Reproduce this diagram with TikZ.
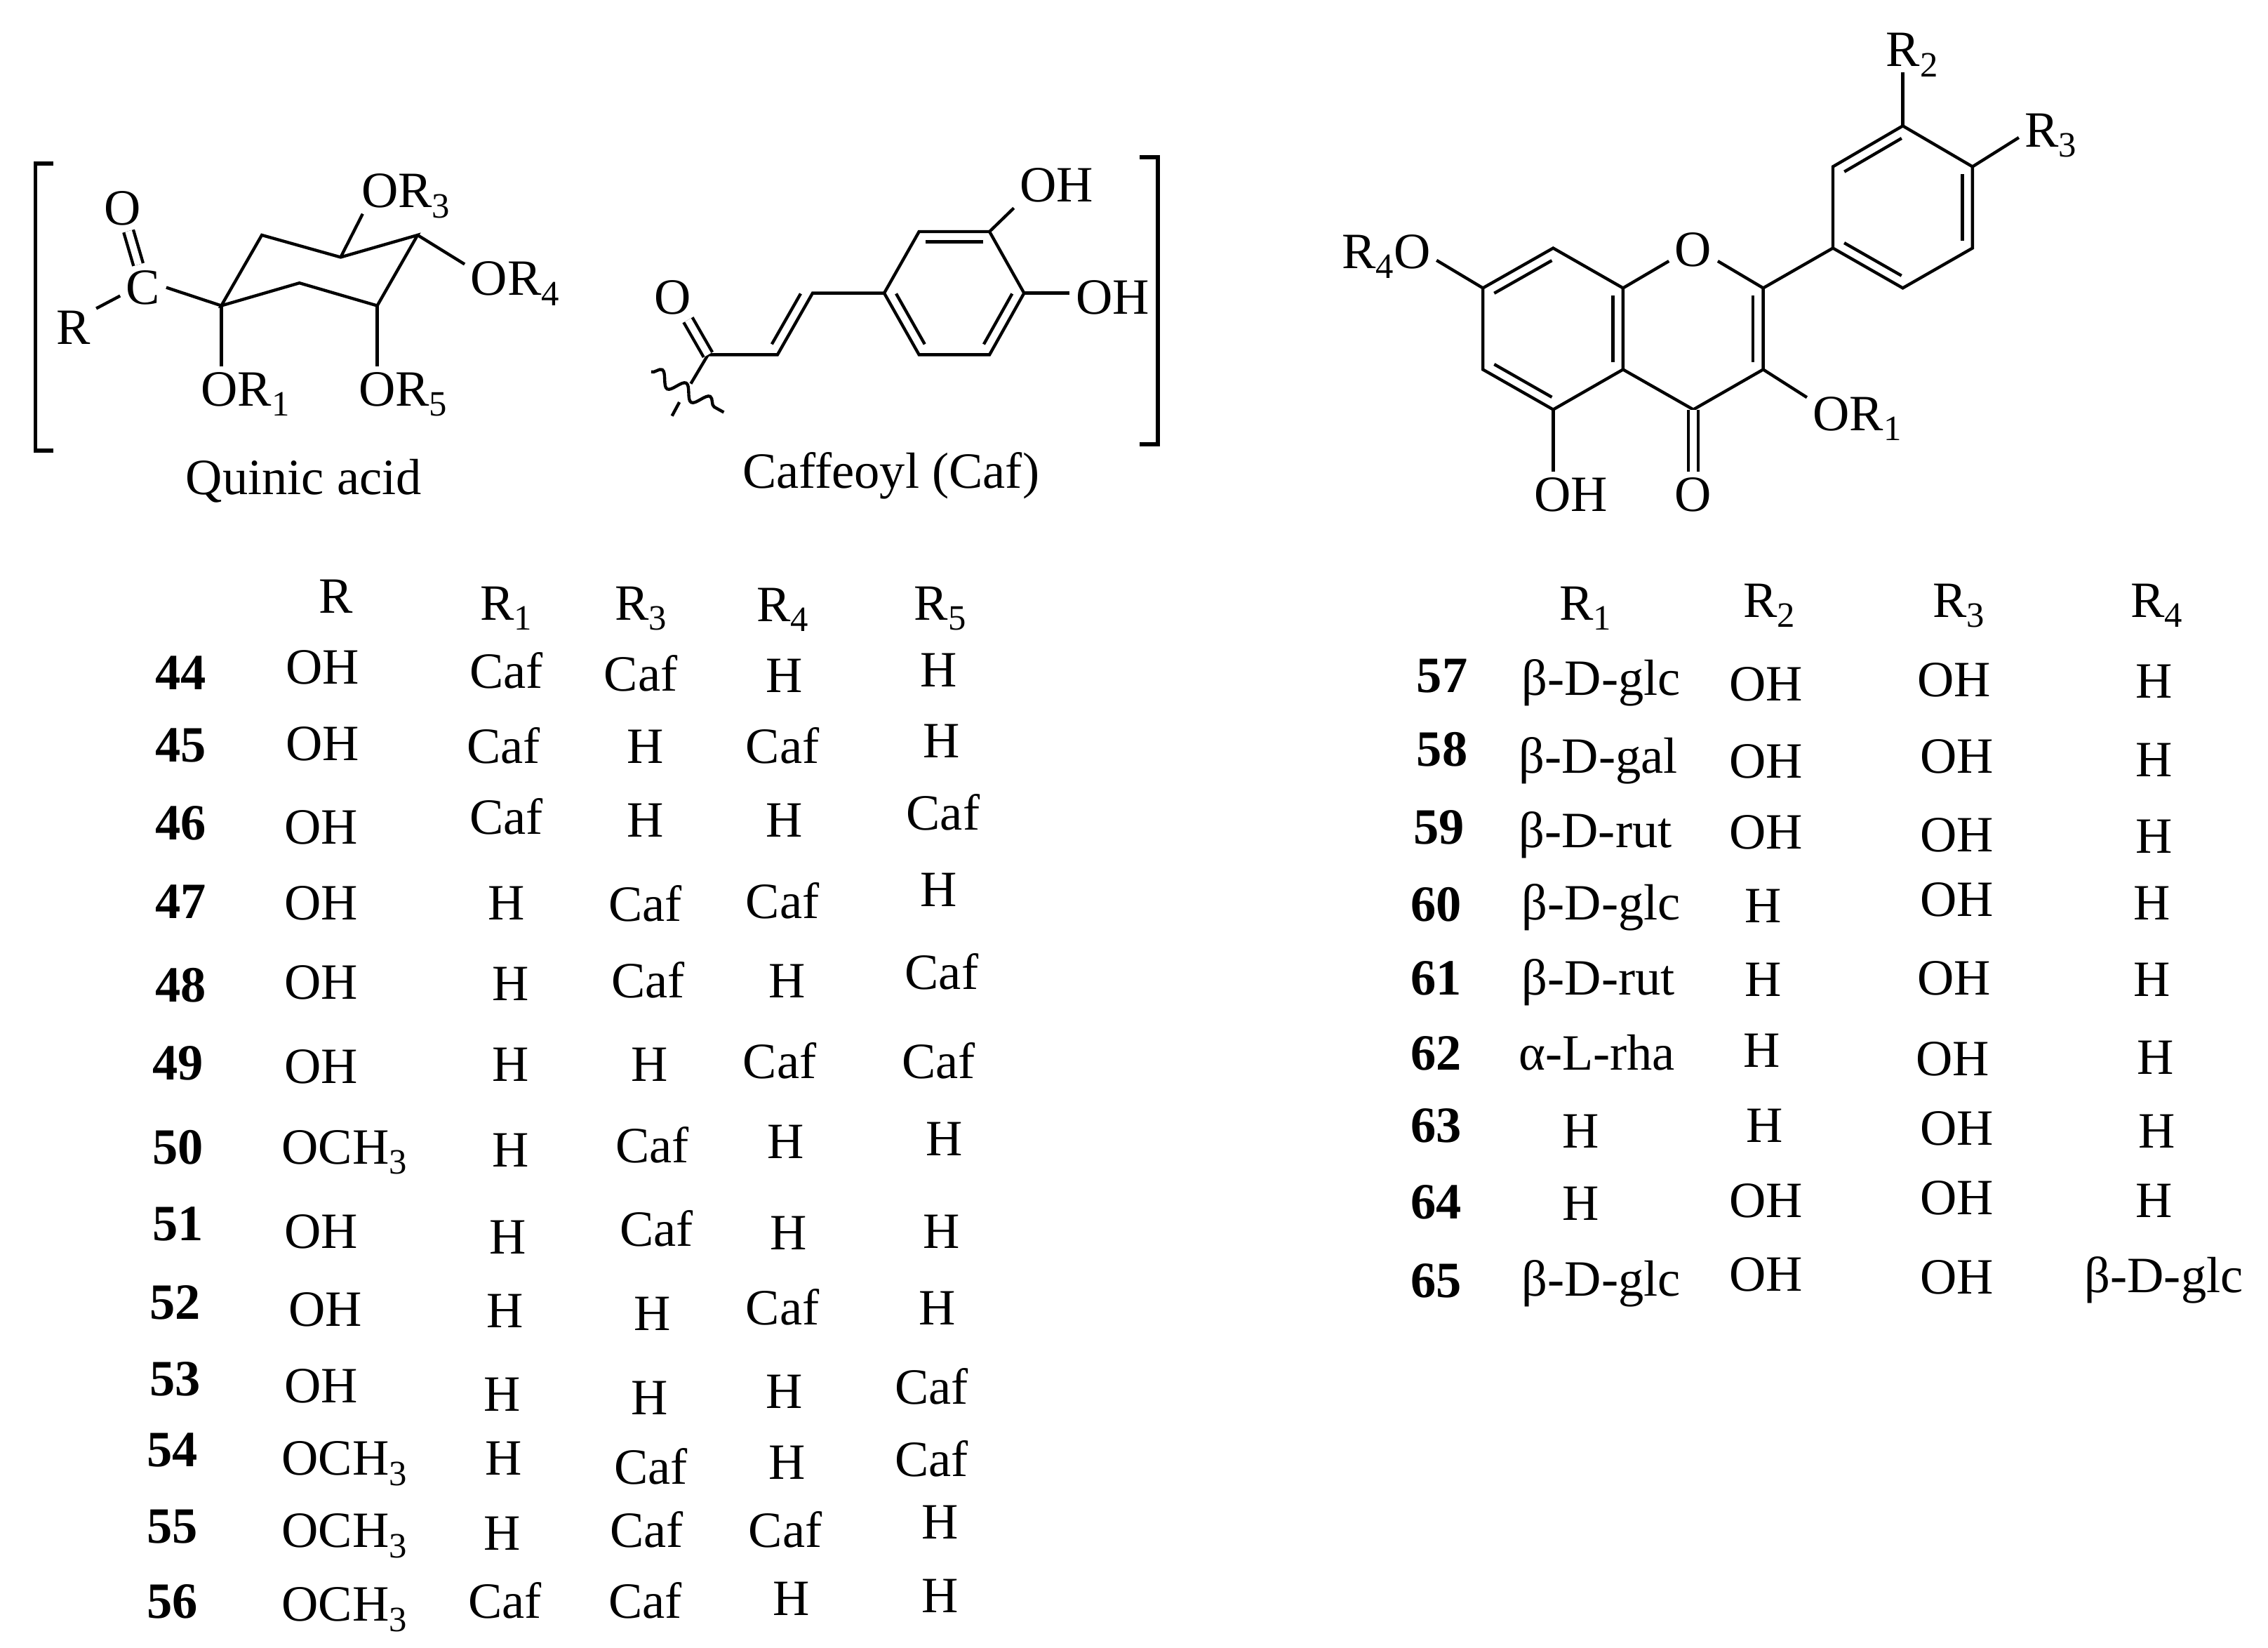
\documentclass[tikz,border=0pt]{standalone}
\usepackage{fontspec}
\setmainfont{Liberation Serif}
\usepackage{xcolor}
\usepackage{tikz}
\usetikzlibrary{calc, decorations.pathmorphing}
\newcommand{\lowsub}[1]{\raisebox{-2pt}{\scriptsize #1}}
\newcommand{\innerbond}[2]{\draw[bond] ($(#1)!0.09!(#2)!0.7mm!90:(#2)$) -- ($(#2)!0.09!(#1)!0.7mm!-90:(#1)$);}

\begin{document}
\begin{tikzpicture}[x=0.1mm, y=-0.1mm,
            bond/.style={draw, line width=0.6pt, line join=miter},
            dbond/.style={draw, line width=0.6pt, double, double distance=1.35pt},
            bracket/.style={draw, line width=0.8pt},
            atom/.style={inner sep=1pt, text height=6.6pt, text depth=0pt},
            cell/.style={inner sep=0pt, text height=6.6pt, text depth=0pt},
            num/.style={cell, font=\bfseries}]
            \useasboundingbox (0,0) rectangle (1568,1139);

            \draw[bracket] (36.7,113) -| (24.5,311.5) -- (36.7,311.5);
            \draw[bracket] (788,108.5) -| (800.3,307) -- (788,307);

            \coordinate (q1) at (153,211.3);
            \coordinate (q2) at (181,162.5);
            \coordinate (q3) at (235.5,177.8);
            \coordinate (q4) at (288.7,162.5);
            \coordinate (q5) at (260.8,211.3);
            \coordinate (q6) at (207,195.6);
            \node[atom] (qc) at (99,198.7) {C};
            \node[atom] (qo) at (84.6,143.9) {O};
            \node[atom] (qr) at (50.6,226.6) {R};
            \node[atom] (qor3) at (280.5,132) {OR\lowsub{3}};
            \node[atom] (qor4) at (356,192.6) {OR\lowsub{4}};
            \node[atom] (qor1) at (169.5,269) {OR\lowsub{1}};
            \node[atom] (qor5) at (278.5,269) {OR\lowsub{5}};
            \node[cell] (quinic) at (210,330) {Quinic acid};

            \draw[bond] (q1) -- (q2) -- (q3) -- (q4) -- (q5) -- (q6) -- cycle;
            \draw[bond] (qc.east) -- (q1);
            \draw[bond] (qc.200) -- (qr.40);
            \draw[dbond] (qc.102) -- (qo.285);
            \draw[bond] (q3) -- (qor3.208);
            \draw[bond] (q4) -- (qor4.164);
            \draw[bond] (q1) -- (q1 |- qor1.north);
            \draw[bond] (q5) -- (q5 |- qor5.north);

            \coordinate (a1) at (611.3,202.6);
            \coordinate (a2) at (635.4,160.1);
            \coordinate (a3) at (684.1,160.1);
            \coordinate (a4) at (708,202.6);
            \coordinate (a5) at (684.1,245.2);
            \coordinate (a6) at (635.4,245.2);
            \coordinate (v1) at (561.8,202.6);
            \coordinate (v2) at (537.5,245.2);
            \coordinate (k) at (489.5,245.2);
            \coordinate (cut1) at (477.6,265.2);
            \coordinate (cut2) at (469.7,278);
            \coordinate (cut3) at (464.6,287.5);
            \coordinate (wave1) at (450.2,257);
            \coordinate (wave2) at (500.4,285);
            \node[atom] (ko) at (465,205.3) {O};
            \node[atom] (oh1) at (730.5,128) {OH};
            \node[atom] (oh2) at (769.2,205.3) {OH};
            \node[cell] (caf) at (616,326) {Caffeoyl (Caf)};

            \draw[bond] (a1) -- (a2) -- (a3) -- (a4) -- (a5) -- (a6) -- cycle;
            \innerbond{a3}{a2}
            \innerbond{a1}{a6}
            \innerbond{a5}{a4}
            \draw[bond] (a1) -- (v1) -- (v2) -- (k) -- (cut1);
            \innerbond{v2}{v1}
            \draw[dbond] (k) -- (ko.304);
            \draw[bond] (cut2) -- (cut3);
            \draw[bond, decorate, decoration={snake, segment length=1.9mm, amplitude=0.5mm}] (wave1) -- (wave2);
            \draw[bond] (a3) -- (oh1.south west);
            \draw[bond] (a4) -- (a4 -| oh2.west);

            \coordinate (f1) at (1025.2,199.1);
            \coordinate (f2) at (1073.8,171.5);
            \coordinate (f3) at (1122.1,199.1);
            \coordinate (f4) at (1122.1,255.4);
            \coordinate (f5) at (1073.8,283.1);
            \coordinate (f6) at (1025.2,255.4);
            \coordinate (f8) at (1219,199.1);
            \coordinate (f9) at (1219,255.4);
            \coordinate (f10) at (1170.7,283.1);
            \coordinate (b1) at (1267.2,171.5);
            \coordinate (b2) at (1267.2,115.2);
            \coordinate (b3) at (1315.5,87);
            \coordinate (b4) at (1363.7,115.2);
            \coordinate (b5) at (1363.7,171.5);
            \coordinate (b6) at (1315.5,199.1);
            \node[atom] (fo) at (1170.7,172.6) {O};
            \node[atom] (fco) at (1170.7,341.7) {O};
            \node[atom] (foh) at (1086,341.7) {OH};
            \node[atom] (fro) at (958.4,173.8) {R\lowsub{4}O};
            \node[atom] (for1) at (1284,286) {OR\lowsub{1}};
            \node[atom] (fr2) at (1321.8,34.3) {R\lowsub{2}};
            \node[atom] (fr3) at (1417.8,90) {R\lowsub{3}};

            \draw[bond] (f3) -- (f2) -- (f1) -- (f6) -- (f5) -- (f4) -- (f3);
            \draw[bond] (f4) -- (f10) -- (f9) -- (f8);
            \draw[bond] (f3) -- (fo.205);
            \draw[bond] (f8) -- (fo.335);
            \draw[bond] (b1) -- (b2) -- (b3) -- (b4) -- (b5) -- (b6) -- cycle;
            \draw[bond] (f8) -- (b1);
            \innerbond{f2}{f1}
            \innerbond{f6}{f5}
            \innerbond{f4}{f3}
            \innerbond{f9}{f8}
            \innerbond{b1}{b6}
            \innerbond{b5}{b4}
            \innerbond{b3}{b2}
            \draw[dbond] (f10) -- (fco.north);
            \draw[bond] (f5) -- (f5 |- foh.north);
            \draw[bond] (f1) -- (fro.350);
            \draw[bond] (f9) -- (for1.162);
            \draw[bond] (b3) -- (b3 |- fr2.south);
            \draw[bond] (b4) -- (fr3.193);

            \node[cell] (hr) at (232,412) {R};
            \node[cell] (hr1) at (350,417) {R\lowsub{1}};
            \node[cell] (hr3) at (443,417) {R\lowsub{3}};
            \node[cell] (hr4) at (541,418) {R\lowsub{4}};
            \node[cell] (hr5) at (650,417) {R\lowsub{5}};

            \node[num] (n44) at (125,465) {44};
            \node[cell] (a44) at (223,461) {OH};
            \node[cell] (b44) at (350,464) {Caf};
            \node[cell] (c44) at (443,466) {Caf};
            \node[cell] (d44) at (542,467) {H};
            \node[cell] (e44) at (649,463) {H};

            \node[num] (n45) at (125,515) {45};
            \node[cell] (a45) at (223,514) {OH};
            \node[cell] (b45) at (348,516) {Caf};
            \node[cell] (c45) at (446,516) {H};
            \node[cell] (d45) at (541,516) {Caf};
            \node[cell] (e45) at (651,512) {H};

            \node[num] (n46) at (125,569) {46};
            \node[cell] (a46) at (222,572) {OH};
            \node[cell] (b46) at (350,565) {Caf};
            \node[cell] (c46) at (446,567) {H};
            \node[cell] (d46) at (542,567) {H};
            \node[cell] (e46) at (652,562) {Caf};

            \node[num] (n47) at (125,623) {47};
            \node[cell] (a47) at (222,624) {OH};
            \node[cell] (b47) at (350,624) {H};
            \node[cell] (c47) at (446,625) {Caf};
            \node[cell] (d47) at (541,623) {Caf};
            \node[cell] (e47) at (649,615) {H};

            \node[num] (n48) at (125,681) {48};
            \node[cell] (a48) at (222,679) {OH};
            \node[cell] (b48) at (353,680) {H};
            \node[cell] (c48) at (448,678) {Caf};
            \node[cell] (d48) at (544,678) {H};
            \node[cell] (e48) at (651,672) {Caf};

            \node[num] (n49) at (123,735) {49};
            \node[cell] (a49) at (222,737) {OH};
            \node[cell] (b49) at (353,736) {H};
            \node[cell] (c49) at (449,736) {H};
            \node[cell] (d49) at (539,734) {Caf};
            \node[cell] (e49) at (649,734) {Caf};

            \node[num] (n50) at (123,793) {50};
            \node[cell] (a50) at (238,793) {OCH\lowsub{3}};
            \node[cell] (b50) at (353,795) {H};
            \node[cell] (c50) at (451,792) {Caf};
            \node[cell] (d50) at (543,789) {H};
            \node[cell] (e50) at (653,787) {H};

            \node[num] (n51) at (123,846) {51};
            \node[cell] (a51) at (222,851) {OH};
            \node[cell] (b51) at (351,855) {H};
            \node[cell] (c51) at (454,850) {Caf};
            \node[cell] (d51) at (545,852) {H};
            \node[cell] (e51) at (651,851) {H};

            \node[num] (n52) at (121,900) {52};
            \node[cell] (a52) at (225,905) {OH};
            \node[cell] (b52) at (349,906) {H};
            \node[cell] (c52) at (451,908) {H};
            \node[cell] (d52) at (541,904) {Caf};
            \node[cell] (e52) at (648,904) {H};

            \node[num] (n53) at (121,953) {53};
            \node[cell] (a53) at (222,958) {OH};
            \node[cell] (b53) at (347,964) {H};
            \node[cell] (c53) at (449,966) {H};
            \node[cell] (d53) at (542,962) {H};
            \node[cell] (e53) at (644,959) {Caf};

            \node[num] (n54) at (119,1002) {54};
            \node[cell] (a54) at (238,1008) {OCH\lowsub{3}};
            \node[cell] (b54) at (348,1008) {H};
            \node[cell] (c54) at (450,1014) {Caf};
            \node[cell] (d54) at (544,1011) {H};
            \node[cell] (e54) at (644,1009) {Caf};

            \node[num] (n55) at (119,1055) {55};
            \node[cell] (a55) at (238,1058) {OCH\lowsub{3}};
            \node[cell] (b55) at (347,1060) {H};
            \node[cell] (c55) at (447,1058) {Caf};
            \node[cell] (d55) at (543,1058) {Caf};
            \node[cell] (e55) at (650,1052) {H};

            \node[num] (n56) at (119,1107) {56};
            \node[cell] (a56) at (238,1109) {OCH\lowsub{3}};
            \node[cell] (b56) at (349,1107) {Caf};
            \node[cell] (c56) at (446,1107) {Caf};
            \node[cell] (d56) at (547,1105) {H};
            \node[cell] (e56) at (650,1103) {H};

            \node[cell] (gr1) at (1096,417) {R\lowsub{1}};
            \node[cell] (gr2) at (1223,415) {R\lowsub{2}};
            \node[cell] (gr3) at (1354,415) {R\lowsub{3}};
            \node[cell] (gr4) at (1491,415) {R\lowsub{4}};

            \node[num] (n57) at (997,467) {57};
            \node[cell] (a57) at (1107,469) {β-D-glc};
            \node[cell] (b57) at (1221,473) {OH};
            \node[cell] (c57) at (1351,470) {OH};
            \node[cell] (d57) at (1489,471) {H};

            \node[num] (n58) at (997,518) {58};
            \node[cell] (a58) at (1105,523) {β-D-gal};
            \node[cell] (b58) at (1221,526) {OH};
            \node[cell] (c58) at (1353,523) {OH};
            \node[cell] (d58) at (1489,525) {H};

            \node[num] (n59) at (995,572) {59};
            \node[cell] (a59) at (1103,574) {β-D-rut};
            \node[cell] (b59) at (1221,575) {OH};
            \node[cell] (c59) at (1353,577) {OH};
            \node[cell] (d59) at (1489,578) {H};

            \node[num] (n60) at (993,625) {60};
            \node[cell] (a60) at (1107,624) {β-D-glc};
            \node[cell] (b60) at (1219,626) {H};
            \node[cell] (c60) at (1353,622) {OH};
            \node[cell] (d60) at (1488,624) {H};

            \node[num] (n61) at (993,676) {61};
            \node[cell] (a61) at (1105,676) {β-D-rut};
            \node[cell] (b61) at (1219,677) {H};
            \node[cell] (c61) at (1351,676) {OH};
            \node[cell] (d61) at (1488,677) {H};

            \node[num] (n62) at (993,728) {62};
            \node[cell] (a62) at (1104,728) {α-L-rha};
            \node[cell] (b62) at (1218,726) {H};
            \node[cell] (c62) at (1350,732) {OH};
            \node[cell] (d62) at (1490,731) {H};

            \node[num] (n63) at (993,778) {63};
            \node[cell] (a63) at (1093,782) {H};
            \node[cell] (b63) at (1220,778) {H};
            \node[cell] (c63) at (1353,780) {OH};
            \node[cell] (d63) at (1491,782) {H};

            \node[num] (n64) at (993,831) {64};
            \node[cell] (a64) at (1093,832) {H};
            \node[cell] (b64) at (1221,830) {OH};
            \node[cell] (c64) at (1353,828) {OH};
            \node[cell] (d64) at (1489,830) {H};

            \node[num] (n65) at (993,885) {65};
            \node[cell] (a65) at (1107,884) {β-D-glc};
            \node[cell] (b65) at (1221,881) {OH};
            \node[cell] (c65) at (1353,883) {OH};
            \node[cell] (d65) at (1496,882) {β-D-glc};
        \end{tikzpicture}
\end{document}
